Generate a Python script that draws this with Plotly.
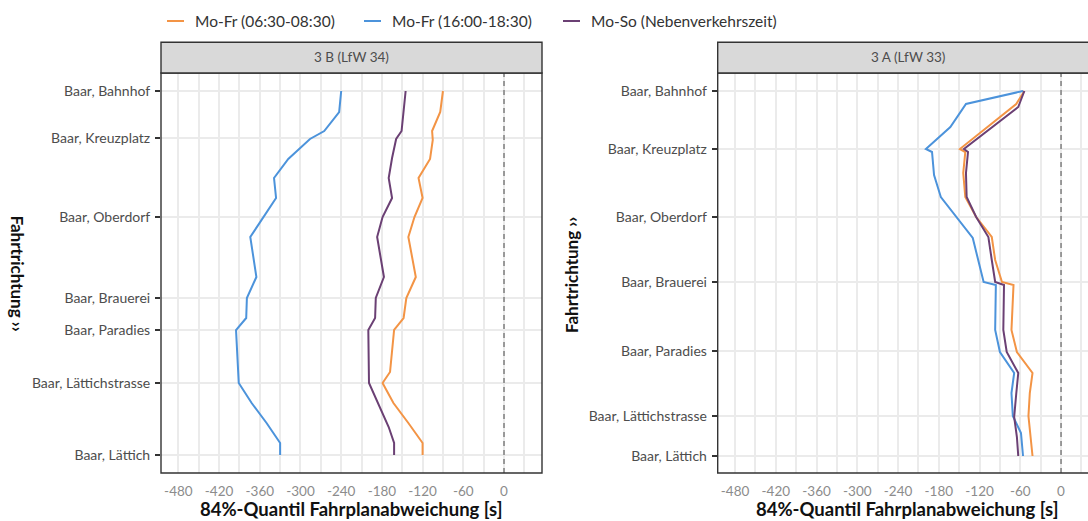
import plotly.graph_objects as go

# ---------------- data ----------------
series_names = ["Mo-Fr (06:30-08:30)", "Mo-Fr (16:00-18:30)", "Mo-So (Nebenverkehrszeit)"]
series_colors = ["#F39445", "#4C93DB", "#6B4074"]

panel_titles = ["3 B (LfW 34)", "3 A (LfW 33)"]

stops = ["Baar, Bahnhof", "Baar, Kreuzplatz", "Baar, Oberdorf", "Baar, Brauerei",
         "Baar, Paradies", "Baar, Lättichstrasse", "Baar, Lättich"]

# stop positions along the route (relative distance units)
stop_pos_b = [0, 47, 126, 207, 239, 292, 364]
stop_pos_a = [0, 58, 126, 191, 260, 325, 365]

# Panel 3 B (LfW 34)
b_orange_pos = [0, 21, 40, 49, 68, 87, 107, 126, 146, 186, 207, 227, 239, 281, 292, 312, 332, 352, 364]
b_orange_val = [-90, -94, -106, -105, -109, -126, -120, -132, -141, -130, -144, -148, -162, -168, -179, -163, -141, -120, -120]
b_blue_pos = [0, 21, 40, 48, 68, 87, 107, 146, 186, 207, 227, 239, 292, 312, 332, 352, 364]
b_blue_val = [-240, -243, -265, -286, -318, -339, -336, -374, -365, -379, -380, -395, -391, -372, -350, -330, -330]
b_purple_pos = [0, 40, 48, 67, 87, 107, 126, 146, 186, 207, 227, 239, 292, 316, 336, 352, 364]
b_purple_val = [-145, -151, -159, -165, -170, -165, -179, -187, -177, -189, -190, -200, -199, -183, -170, -162, -162]

# Panel 3 A (LfW 33)
a_orange_pos = [0, 13, 58, 61, 82, 106, 126, 146, 169, 191, 194, 239, 261, 282, 302, 325, 365]
a_orange_val = [-54, -66, -149, -141, -144, -141, -125, -102, -97, -87, -70, -73, -65, -42, -46, -48, -42]
a_blue_pos = [0, 13, 36, 58, 61, 84, 106, 147, 191, 194, 239, 261, 282, 302, 325, 342, 365]
a_blue_val = [-56, -140, -163, -199, -190, -187, -177, -130, -114, -96, -97, -90, -69, -73, -71, -59, -56]
a_purple_pos = [0, 16, 58, 61, 82, 106, 126, 146, 169, 191, 194, 239, 261, 282, 303, 326, 346, 365]
a_purple_val = [-54, -63, -143, -137, -140, -139, -125, -107, -102, -97, -84, -85, -80, -63, -66, -69, -65, -63]

x_tick_vals = [-480, -420, -360, -300, -240, -180, -120, -60, 0]
x_title = "84%-Quantil Fahrplanabweichung [s]"
y_title = "Fahrtrichtung \u203a\u203a"

# ---------------- layout helpers ----------------
W, H = 1088, 521
FONT = "Lato"

def fx(px):
    return px / W

def fy(py):
    return 1 - py / H

fig = go.Figure()

panels = [
    ("x", "y", [(b_orange_pos, b_orange_val), (b_blue_pos, b_blue_val), (b_purple_pos, b_purple_val)]),
    ("x2", "y2", [(a_orange_pos, a_orange_val), (a_blue_pos, a_blue_val), (a_purple_pos, a_purple_val)]),
]
for xa, ya, data in panels:
    for i, (pos, val) in enumerate(data):
        fig.add_trace(go.Scatter(
            x=val, y=pos, mode="lines", name=series_names[i],
            line=dict(color=series_colors[i], width=2),
            xaxis=xa, yaxis=ya, showlegend=False, hoverinfo="skip"))

x_range_left = [-505.6, 56]
x_range_right = [-505.6, 39.7]
y_range = [382, -18]

common_x = dict(
    tickmode="array", tickvals=x_tick_vals, ticktext=[str(v) for v in x_tick_vals],
    showgrid=True, gridcolor="#EBEBEB", gridwidth=1.5,
    minor=dict(dtick=30, tick0=0, showgrid=True, gridcolor="#EBEBEB", gridwidth=1.5),
    zeroline=False, showline=False, ticks="",
    tickfont=dict(family=FONT, size=13.5, color="#8C8C8C"),
    ticklabelstandoff=8,
    fixedrange=True,
)
common_y = dict(
    range=y_range, tickmode="array", ticktext=stops,
    showgrid=True, gridcolor="#EBEBEB", gridwidth=2,
    zeroline=False, showline=False,
    ticks="outside", ticklen=5, tickwidth=1.5, tickcolor="#333333",
    tickfont=dict(family=FONT, size=14, color="#4D4D4D"),
    ticklabelstandoff=2,
)

y_dom = [fy(473), fy(73)]
fig.update_layout(
    xaxis=dict(domain=[fx(161), fx(542)], range=x_range_left, anchor="y", **common_x),
    xaxis2=dict(domain=[fx(717.7), 1.0], range=x_range_right, anchor="y2", **common_x),
    yaxis=dict(domain=y_dom, anchor="x", tickvals=stop_pos_b, **common_y),
    yaxis2=dict(domain=y_dom, anchor="x2", tickvals=stop_pos_a, **common_y),
)

shapes = []
annotations = []
# zero dashed lines
for xr, yr in [("x", "y domain"), ("x2", "y2 domain")]:
    shapes.append(dict(type="line", xref=xr, yref=yr, x0=0, x1=0, y0=0, y1=1,
                       line=dict(color="#777777", width=1.4, dash="5px,4px"), layer="above"))

panel_px = [(161, 542), (717.7, 1098)]
for (x0, x1), title in zip(panel_px, panel_titles):
    # panel border
    shapes.append(dict(type="rect", xref="paper", yref="paper", x0=fx(x0), x1=fx(x1), y0=fy(473), y1=fy(73),
                       line=dict(color="#333333", width=1.4), fillcolor="rgba(0,0,0,0)", layer="above"))
    # strip
    shapes.append(dict(type="rect", xref="paper", yref="paper", x0=fx(x0), x1=fx(x1), y0=fy(73), y1=fy(42.3),
                       line=dict(color="#333333", width=1.4), fillcolor="#D9D9D9", layer="above"))
    cx = (x0 + x1) / 2
    annotations.append(dict(text=title, xref="paper", yref="paper", x=fx(cx), y=fy(57.5),
                            showarrow=False, xanchor="center", yanchor="middle",
                            font=dict(family=FONT, size=13.5, color="#4D4D4D")))
    annotations.append(dict(text="<b>" + x_title + "</b>", xref="paper", yref="paper", x=fx(cx), y=0,
                            showarrow=False, xanchor="center", yanchor="bottom", yshift=-1,
                            font=dict(family=FONT, size=18.5, color="#111111")))

# y titles
annotations.append(dict(text="<b>" + y_title + "</b>", xref="paper", yref="paper", x=fx(17.5), y=fy(273),
                        showarrow=False, xanchor="center", yanchor="middle", textangle=90,
                        font=dict(family=FONT, size=17, color="#111111")))
annotations.append(dict(text="<b>" + y_title + "</b>", xref="paper", yref="paper", x=fx(571), y=fy(275),
                        showarrow=False, xanchor="center", yanchor="middle", textangle=-90,
                        font=dict(family=FONT, size=17, color="#111111")))

# legend (manual, top)
legend_key_x = [167, 364, 563]
for kx, name, col in zip(legend_key_x, series_names, series_colors):
    shapes.append(dict(type="line", xref="paper", yref="paper", x0=fx(kx), x1=fx(kx + 17), y0=fy(21), y1=fy(21),
                       line=dict(color=col, width=2)))
    annotations.append(dict(text=name, xref="paper", yref="paper", x=fx(kx + 26), y=fy(21),
                            showarrow=False, xanchor="left", yanchor="middle",
                            font=dict(family=FONT, size=15.5, color="#333333")))

fig.update_layout(
    width=W, height=H, autosize=False,
    margin=dict(l=0, r=0, t=0, b=0),
    paper_bgcolor="white", plot_bgcolor="white",
    shapes=shapes, annotations=annotations,
    showlegend=False,
    font=dict(family=FONT),
)

fig.write_html("out.html", config=dict(displayModeBar=False))
